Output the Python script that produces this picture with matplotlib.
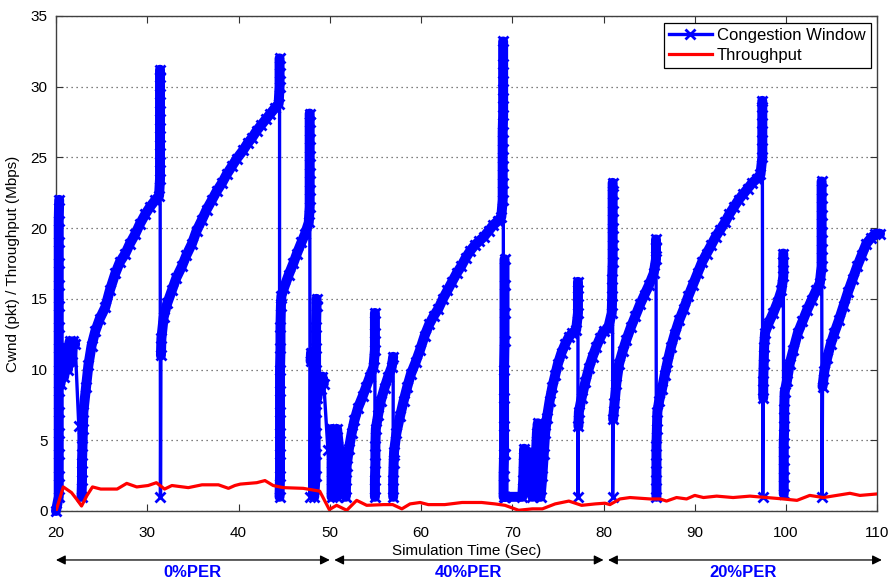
import matplotlib
matplotlib.use("Agg")
import matplotlib.pyplot as plt
import numpy as np

plt.rcParams['font.family'] = ['Liberation Sans', 'DejaVu Sans']

# congestion window samples (time in s, cwnd in pkt)
cwnd_per0 = [
    (20.0, 0.0), (20.3, 1.0), (20.3, 2.5), (20.3, 4.0), (20.3, 5.5), (20.3, 7.0),
    (20.3, 8.5), (20.3, 10.0), (20.3, 11.5), (20.3, 13.0), (20.3, 14.5), (20.3, 16.0),
    (20.3, 17.5), (20.3, 19.0), (20.3, 20.5), (20.35, 22.0),
    (20.5, 9.0), (20.7, 10.5), (20.9, 9.5), (21.1, 11.5), (21.3, 10.0), (21.5, 12.0),
    (21.7, 10.5), (21.9, 12.0), (22.1, 11.8), (22.5, 6.0), (22.8, 1.0),
    (22.85, 2.2), (22.85, 3.4), (22.9, 4.6), (22.95, 5.8), (23.0, 7.0),
    (23.3, 8.8), (23.55, 10.3), (23.9, 11.7), (24.3, 12.7), (24.8, 13.6), (25.4, 14.4),
    (25.9, 15.6), (26.5, 16.8), (27.0, 17.6), (27.6, 18.2), (28.1, 18.9), (28.7, 19.6),
    (29.2, 20.3), (29.8, 21.0), (30.3, 21.5), (30.9, 22.0), (31.3, 22.3),
    (31.4, 23.5), (31.4, 24.7), (31.4, 25.9), (31.4, 27.1), (31.4, 28.3), (31.4, 29.5),
    (31.4, 30.7), (31.4, 31.2), (31.45, 1.0), (31.5, 11.0), (31.55, 12.2),
    (31.8, 13.7), (32.2, 14.7), (32.7, 15.6), (33.2, 16.5), (33.8, 17.3), (34.3, 18.1),
    (34.9, 18.9), (35.4, 19.8), (36.0, 20.6), (36.5, 21.3), (37.1, 22.0), (37.6, 22.6),
    (38.2, 23.2), (38.7, 23.8), (39.3, 24.4), (39.8, 24.9), (40.5, 25.5), (41.0, 26.0),
    (41.5, 26.4), (42.0, 26.9), (42.5, 27.3), (43.0, 27.7), (43.5, 28.1), (44.0, 28.5),
    (44.4, 28.8), (44.5, 30.0), (44.5, 31.0), (44.5, 32.0), (44.5, 1.0),
    (44.55, 2.5), (44.55, 4.0), (44.55, 5.5), (44.55, 7.0), (44.55, 8.5), (44.55, 10.0),
    (44.6, 11.5), (44.6, 13.0), (44.65, 14.5), (44.7, 15.2),
    (45.0, 15.8), (45.5, 16.7), (46.0, 17.5), (46.4, 18.2), (46.9, 19.0), (47.3, 19.6),
    (47.7, 20.4), (47.8, 21.5), (47.8, 22.7), (47.8, 23.9), (47.8, 25.1), (47.8, 26.3),
    (47.8, 27.5), (47.8, 28.1), (47.85, 1.0), (47.9, 10.6), (47.95, 11.2), (48.3, 1.0),
    (48.45, 2.5), (48.45, 4.0), (48.45, 5.5), (48.45, 7.0), (48.5, 8.5), (48.5, 10.0),
    (48.5, 11.5), (48.5, 13.0), (48.55, 14.5), (48.55, 15.0),
    (48.65, 8.0), (48.8, 9.3), (49.0, 8.6), (49.2, 9.5), (49.35, 9.0), (49.8, 4.3),
]

cwnd_per40 = [
    (50.2, 1.0), (50.2, 2.2), (50.2, 3.4), (50.25, 4.6), (50.25, 5.8), (50.4, 4.6),
    (50.55, 3.8), (50.75, 1.0), (50.75, 2.2), (50.75, 3.4), (50.75, 4.6), (50.8, 5.8),
    (51.1, 4.0), (51.4, 2.8), (51.75, 1.0), (51.8, 2.2), (51.85, 3.2), (52.1, 4.4),
    (52.4, 5.5), (52.7, 6.4), (53.1, 7.3), (53.6, 8.1), (54.0, 8.8), (54.4, 9.5),
    (54.8, 10.2), (54.95, 11.4), (54.95, 12.6), (54.95, 14.0), (54.95, 1.0),
    (54.95, 2.2), (55.0, 3.4), (55.0, 4.6), (55.05, 5.8), (55.3, 6.8), (55.6, 7.8),
    (56.0, 8.7), (56.4, 9.5), (56.8, 10.2), (56.95, 10.9), (56.95, 1.0), (56.95, 2.2),
    (57.0, 3.4), (57.05, 4.2), (57.3, 5.5), (57.7, 6.7), (58.1, 7.8), (58.5, 8.8),
    (58.9, 9.7), (59.4, 10.5), (59.9, 11.4), (60.4, 12.4), (60.9, 13.2), (61.4, 13.8),
    (61.9, 14.3), (62.4, 15.0), (62.9, 15.6), (63.4, 16.2), (63.9, 16.8), (64.4, 17.3),
    (64.9, 17.9), (65.4, 18.4), (65.9, 18.8), (66.4, 19.1), (66.9, 19.4), (67.4, 19.8),
    (67.9, 20.2), (68.4, 20.5), (68.8, 20.8),
    (68.95, 22.0), (68.95, 23.2), (68.95, 24.4), (68.95, 25.6), (68.95, 26.8),
    (69.0, 28.0), (69.0, 29.2), (69.0, 30.4), (69.0, 31.6), (69.0, 33.2), (69.05, 1.0),
    (69.05, 2.5), (69.1, 4.0), (69.1, 6.0), (69.1, 8.0), (69.1, 10.0), (69.15, 12.0),
    (69.15, 14.0), (69.15, 16.0), (69.15, 17.8), (69.2, 1.0), (69.2, 4.0),
    (69.25, 1.0), (71.1, 1.0),
    (71.2, 2.2), (71.25, 3.4), (71.3, 4.4), (71.5, 3.6), (71.7, 4.2), (71.85, 3.2),
    (72.0, 2.2), (72.2, 1.0), (72.5, 2.5), (72.6, 4.0), (72.7, 5.5), (72.8, 6.2),
    (73.0, 4.5), (73.1, 1.0), (73.3, 2.5), (73.45, 4.0), (73.6, 5.5), (73.8, 6.6),
    (74.1, 7.8), (74.4, 8.8), (74.7, 9.6), (75.0, 10.4), (75.4, 11.2), (75.8, 11.8),
    (76.2, 12.3), (76.6, 12.6), (77.0, 12.8), (77.2, 14.0), (77.2, 15.2), (77.2, 16.2),
    (77.2, 1.0), (77.25, 6.0), (77.3, 7.0), (77.6, 8.0), (78.0, 9.1), (78.4, 10.1),
    (78.8, 10.9), (79.2, 11.6), (79.6, 12.2), (80.0, 12.7), (80.5, 12.9),
]

cwnd_per20 = [
    (80.9, 14.0), (80.95, 15.2), (80.95, 16.4), (81.0, 17.6), (81.0, 18.8), (81.0, 20.0),
    (81.0, 21.2), (81.0, 22.4), (81.0, 23.2), (81.0, 1.0), (81.05, 6.5), (81.2, 7.6),
    (81.4, 9.0), (81.7, 10.4), (82.1, 11.3), (82.5, 12.1), (83.0, 13.0), (83.5, 13.8),
    (84.0, 14.6), (84.5, 15.3), (85.0, 16.0), (85.5, 16.8), (85.75, 17.8), (85.75, 18.6),
    (85.75, 19.2), (85.8, 1.0), (85.8, 2.2), (85.8, 3.4), (85.8, 4.6), (85.85, 5.8),
    (85.9, 7.0), (86.1, 7.8), (86.4, 8.6), (86.7, 9.6), (87.0, 10.5), (87.4, 11.6),
    (87.8, 12.5), (88.3, 13.5), (88.8, 14.3), (89.3, 15.2), (89.8, 16.0), (90.3, 16.8),
    (90.8, 17.6), (91.3, 18.2), (91.8, 18.8), (92.3, 19.4), (92.8, 19.9), (93.3, 20.4),
    (93.8, 21.0), (94.3, 21.5), (94.8, 22.0), (95.3, 22.4), (95.8, 22.8), (96.3, 23.2),
    (96.8, 23.5), (97.2, 23.8), (97.4, 25.0), (97.4, 26.2), (97.4, 27.4), (97.4, 28.6),
    (97.4, 29.0), (97.45, 1.0), (97.5, 8.0), (97.5, 9.2), (97.55, 10.4), (97.6, 11.6),
    (97.7, 12.6), (98.1, 13.3), (98.6, 14.0), (99.1, 14.8), (99.5, 15.6), (99.7, 16.6),
    (99.7, 17.6), (99.7, 18.2), (99.75, 1.2), (99.75, 2.4), (99.75, 3.6), (99.75, 4.8),
    (99.8, 6.0), (99.8, 7.2), (99.85, 8.4), (100.1, 9.2), (100.4, 10.4), (100.8, 11.4),
    (101.3, 12.6), (101.8, 13.4), (102.3, 14.2), (102.8, 14.9), (103.3, 15.6),
    (103.7, 16.1), (103.9, 17.3), (103.9, 18.5), (103.9, 19.7), (103.9, 20.9),
    (103.9, 22.1), (103.9, 23.3), (103.95, 1.0), (104.0, 8.8), (104.2, 9.9),
    (104.5, 10.8), (104.9, 11.8), (105.3, 12.6), (105.8, 13.5), (106.3, 14.5),
    (106.8, 15.5), (107.3, 16.4), (107.8, 17.3), (108.3, 18.1), (108.8, 18.9),
    (109.3, 19.3), (109.8, 19.6), (110.3, 19.6),
]

# throughput (Mbps)
thr_time = [20.0, 20.8, 21.7, 22.3, 22.8, 23.4, 24.0, 24.9, 26.7, 27.75, 28.85, 30.1,
            31.0, 31.9, 32.7, 34.5, 36.0, 37.8, 38.9, 39.6, 40.2, 42.0, 42.9, 43.8,
            44.9, 47.1, 48.9, 49.95, 50.75, 51.86, 52.95, 54.05, 55.9, 56.9, 57.9,
            58.8, 59.9, 60.8, 62.6, 64.5, 66.65, 68.1, 69.2, 70.7, 72.2, 73.3, 74.7,
            76.2, 77.6, 79.1, 80.16, 80.7, 81.8, 82.9, 85.1, 86.2, 86.9, 88.0, 89.1,
            90.0, 90.95, 92.4, 94.2, 96.05, 97.9, 99.7, 101.2, 102.6, 104.1, 105.55,
            107.0, 108.1, 109.9]
thr_value = [0.0, 1.7, 1.3, 0.8, 0.35, 1.1, 1.7, 1.55, 1.55, 1.95, 1.7, 1.8,
             2.0, 1.55, 1.8, 1.65, 1.85, 1.85, 1.6, 1.8, 1.9, 2.0, 2.15, 1.8,
             1.65, 1.6, 1.4, 0.1, 0.4, 0.05, 0.75, 0.4, 0.45, 0.45, 0.15,
             0.5, 0.6, 0.45, 0.45, 0.6, 0.6, 0.5, 0.4, 0.05, 0.15, 0.15, 0.5,
             0.7, 0.4, 0.5, 0.55, 0.45, 0.85, 0.95, 0.85, 0.85, 0.7, 0.95, 0.85,
             1.1, 0.95, 1.05, 0.95, 1.05, 0.95, 0.85, 0.75, 1.1, 0.95, 1.1,
             1.25, 1.1, 1.2]

# PER phases: arrow span and label position
phase_start = [20.0, 50.5, 80.5]
phase_end = [50.0, 80.0, 110.5]
phase_label = ["0%PER", "40%PER", "20%PER"]
phase_text_x = [34.9, 65.2, 95.3]

cwnd = cwnd_per0 + cwnd_per40 + cwnd_per20
cwnd_t = np.array([p[0] for p in cwnd])
cwnd_y = np.array([p[1] for p in cwnd])

# the dense markers in the original merge into a thick band; break that band
# at the sudden window drops so those stay thin lines
band_t = [cwnd_t[0]]
band_y = [cwnd_y[0]]
for i in range(1, len(cwnd_t)):
    if abs(cwnd_y[i] - cwnd_y[i - 1]) > 2.5:
        band_t.append(np.nan)
        band_y.append(np.nan)
    band_t.append(cwnd_t[i])
    band_y.append(cwnd_y[i])

fig = plt.figure(figsize=(8.93, 5.88), dpi=100)
ax = fig.add_axes([0.0627, 0.131, 0.9197, 0.8418])

ax.plot(band_t, band_y, color='#0000ff', linewidth=7.2, solid_capstyle='round',
        solid_joinstyle='round', clip_on=False, zorder=3)
ax.plot(cwnd_t, cwnd_y, color='#0000ff', linewidth=2.4, marker='x',
        markersize=7.5, markeredgewidth=2.0, clip_on=False, zorder=3,
        label='Congestion Window')
ax.plot(thr_time, thr_value, color='#ff0000', linewidth=2.3, zorder=4,
        label='Throughput')

ax.set_xlim(20, 110)
ax.set_ylim(0, 35)
ax.set_xticks(range(20, 111, 10))
ax.set_yticks(range(0, 36, 5))
ax.yaxis.grid(True, linestyle=(0, (1, 3)), color='#555555', linewidth=0.9)
ax.set_axisbelow(True)
ax.tick_params(direction='in', top=True, right=True, length=5, labelsize=11,
               color='#333333')
ax.tick_params(axis='x', pad=11)
ax.tick_params(axis='y', pad=6)
for s in ax.spines.values():
    s.set_color('#404040')
    s.set_linewidth(1.0)

ax.set_ylabel('Cwnd (pkt) / Throughput (Mbps)', fontsize=11, labelpad=8)
ax.set_xlabel('Simulation Time (Sec)', fontsize=11, labelpad=3)

leg = ax.legend(loc='upper right', fontsize=12, fancybox=False, framealpha=1,
                edgecolor='black', handlelength=2.6, borderaxespad=0.4,
                borderpad=0.3, labelspacing=0.3, handletextpad=0.3)
leg.get_frame().set_linewidth(0.9)

trans = ax.get_xaxis_transform()
for x0, x1, lab, xt in zip(phase_start, phase_end, phase_label, phase_text_x):
    ax.annotate('', xy=(x1, -0.099), xytext=(x0, -0.099), xycoords=trans,
                textcoords=trans, annotation_clip=False,
                arrowprops=dict(arrowstyle='<|-|>', color='black', lw=0.9,
                                mutation_scale=14, shrinkA=0, shrinkB=0))
    ax.text(xt, -0.125, lab, transform=trans, ha='center', va='center',
            color='#0000ff', fontsize=12, fontweight='bold')

fig.savefig('out.png', dpi=100)
